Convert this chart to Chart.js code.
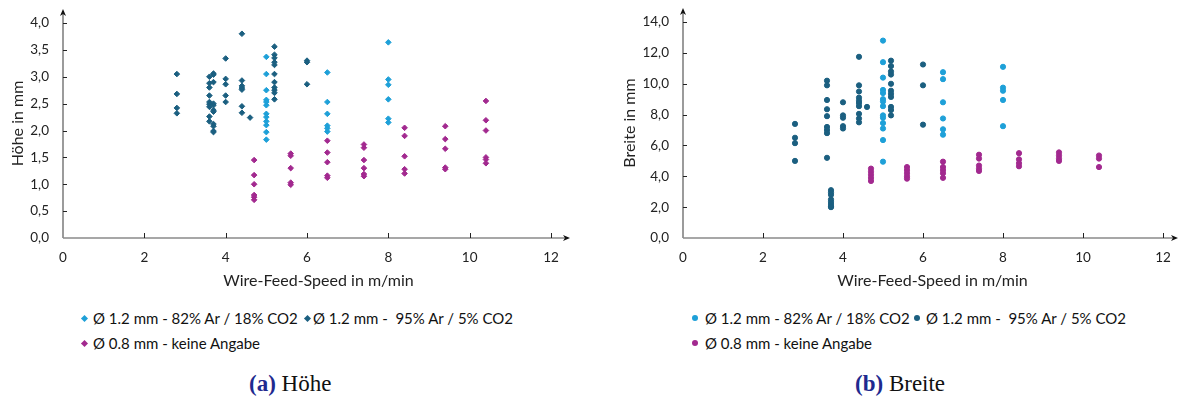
<!DOCTYPE html>
<html><head><meta charset="utf-8">
<script src="https://cdn.jsdelivr.net/npm/chart.js@4/dist/chart.umd.min.js"></script>
<style>
body{margin:0;background:#fff;width:1185px;height:400px;position:relative;overflow:hidden;font-family:Lato,sans-serif;}
canvas{position:absolute;top:0;}
.leg{position:absolute;font-size:15px;color:#111;white-space:pre;line-height:18px;}
.mk{position:absolute;}
.cap{position:absolute;top:370px;font-family:"Liberation Serif",serif;font-size:23px;line-height:28px;color:#111;white-space:pre;}
.cap b{color:#1f2a8f;}
</style></head>
<body>
<canvas id="cH" width="592" height="295" style="left:0"></canvas>
<canvas id="cB" width="593" height="295" style="left:592px"></canvas>
<div id="legends"></div>
<div class="cap" style="left:249px"><b>(a)</b> Höhe</div>
<div class="cap" style="left:855px"><b>(b)</b> Breite</div>
<script>
// ---- data ----
const seriesNames = ['Ø 1.2 mm - 82% Ar / 18% CO2', 'Ø 1.2 mm -  95% Ar / 5% CO2', 'Ø 0.8 mm - keine Angabe'];
const seriesColors = ['#1ea0d8', '#1b5f80', '#a2298f'];
const xTitle = 'Wire-Feed-Speed in m/min';
const xTicks = [0, 2, 4, 6, 8, 10, 12];
const hoeheTicks = [0, 0.5, 1, 1.5, 2, 2.5, 3, 3.5, 4];
const breiteTicks = [0, 2, 4, 6, 8, 10, 12, 14];

const speedsLight = [5.0, 6.5, 8.0];
const speedsDark = [2.8, 3.6, 3.7, 4.0, 4.4, 4.6, 5.2, 6.0];
const speedsThin = [4.7, 5.6, 6.5, 7.4, 8.4, 9.4, 10.4];

const hoeheLight = [
  [3.37, 3.05, 2.75, 2.57, 2.53, 2.47, 2.31, 2.25, 2.17, 2.10, 1.97, 1.83],
  [3.08, 2.53, 2.31, 2.09, 2.04, 1.98],
  [3.64, 2.95, 2.85, 2.58, 2.22, 2.15]
];
const hoeheDark = [
  [3.05, 2.68, 2.42, 2.32],
  [3.00, 2.88, 2.80, 2.65, 2.53, 2.49, 2.44, 2.26, 2.17],
  [3.06, 3.04, 2.90, 2.50, 2.47, 2.38, 2.35, 2.12, 2.08, 1.99, 1.97],
  [3.34, 2.96, 2.86, 2.65, 2.53],
  [3.80, 2.93, 2.83, 2.79, 2.76, 2.45, 2.33],
  [2.24],
  [3.56, 3.41, 3.35, 3.27, 3.22, 3.05, 2.90, 2.80, 2.75, 2.70, 2.58],
  [3.30, 3.27, 2.86]
];
const hoeheThin = [
  [1.45, 1.17, 1.00, 0.80, 0.76, 0.71],
  [1.57, 1.53, 1.30, 1.03, 0.99],
  [1.81, 1.59, 1.41, 1.16, 1.12],
  [1.74, 1.68, 1.45, 1.30, 1.19, 1.15],
  [2.05, 1.90, 1.52, 1.28, 1.20],
  [2.08, 1.84, 1.66, 1.31, 1.28],
  [2.55, 2.19, 2.00, 1.50, 1.46, 1.39]
];

const breiteLight = [
  [12.8, 11.4, 10.4, 9.6, 9.4, 9.0, 8.85, 8.55, 7.95, 7.8, 7.45, 7.1, 6.35, 4.95],
  [10.75, 10.3, 8.8, 7.75, 7.05, 6.7],
  [11.1, 9.75, 9.55, 8.95, 7.25]
];
const breiteDark = [
  [7.4, 6.5, 6.15, 5.0],
  [10.2, 9.9, 8.95, 8.35, 7.9, 7.2, 7.0, 6.8, 5.2],
  [3.1, 2.95, 2.8, 2.5, 2.35, 2.2, 2.05, 2.0],
  [8.8, 7.95, 7.8, 7.25, 7.1],
  [11.75, 9.9, 9.5, 9.1, 8.9, 8.75, 8.55, 8.05, 7.75, 7.5],
  [8.5],
  [11.5, 11.15, 10.8, 10.6, 10.0, 9.55, 9.35, 9.15, 8.5, 8.3, 7.95],
  [11.25, 9.9, 7.35]
];
const breiteThin = [
  [4.5, 4.3, 4.1, 3.9, 3.7],
  [4.6, 4.4, 4.2, 4.0, 3.85],
  [4.95, 4.6, 4.4, 4.2, 3.9],
  [5.4, 5.15, 4.7, 4.5, 4.35],
  [5.5, 5.1, 4.85, 4.65],
  [5.55, 5.35, 5.15, 5.0],
  [5.35, 5.15, 4.6]
];

// ---- helpers ----
function toPoints(speeds, groups) {
  return speeds.flatMap((s, i) => groups[i].map(v => ({x: s, y: v})));
}

const axisArrows = {
  id: 'axisArrows',
  beforeDatasetsDraw(chart, args, opts) {
    const {ctx, chartArea: a, scales: {x, y}} = chart;
    ctx.save();
    ctx.strokeStyle = '#8a8a8a';
    ctx.lineWidth = 1.7;
    const xt = a.right + opts.xExt, yt = a.top - opts.yExt;
    ctx.beginPath();
    ctx.moveTo(a.left, a.bottom); ctx.lineTo(xt - 4, a.bottom);
    ctx.moveTo(a.left, a.bottom); ctx.lineTo(a.left, yt + 4);
    ctx.stroke();
    ctx.fillStyle = '#111';
    ctx.beginPath();
    ctx.moveTo(xt, a.bottom); ctx.lineTo(xt - 7, a.bottom - 3); ctx.lineTo(xt - 5, a.bottom); ctx.lineTo(xt - 7, a.bottom + 3);
    ctx.closePath(); ctx.fill();
    ctx.beginPath();
    ctx.moveTo(a.left, yt); ctx.lineTo(a.left - 3, yt + 7); ctx.lineTo(a.left, yt + 5); ctx.lineTo(a.left + 3, yt + 7);
    ctx.closePath(); ctx.fill();
    ctx.strokeStyle = '#222';
    ctx.lineWidth = 1;
    ctx.beginPath();
    x.ticks.forEach(t => {
      const px = Math.round(x.getPixelForValue(t.value)) + 0.5;
      if (t.value === 0) return;
      ctx.moveTo(px, a.bottom); ctx.lineTo(px, a.bottom - 5);
    });
    y.ticks.forEach(t => {
      const py = Math.round(y.getPixelForValue(t.value)) + 0.5;
      if (t.value === 0) return;
      ctx.moveTo(a.left, py); ctx.lineTo(a.left + 4, py);
    });
    ctx.stroke();
    // axis titles, centred on the full axis including its arrow
    ctx.fillStyle = '#222';
    ctx.font = '16px Lato';
    ctx.textAlign = 'center';
    ctx.textBaseline = 'middle';
    ctx.fillText(opts.xTitle, (a.left + xt) / 2 + 2, 281);
    ctx.translate(opts.yTitleX, (a.bottom + yt) / 2);
    ctx.rotate(-Math.PI / 2);
    ctx.fillText(opts.yTitle, 0, 0);
    ctx.restore();
  }
};

function makeChart(id, groupsL, groupsD, groupsT, cfg) {
  const sets = [
    toPoints(speedsLight, groupsL),
    toPoints(speedsDark, groupsD),
    toPoints(speedsThin, groupsT)
  ];
  const datasets = sets.map((d, i) => ({
    label: seriesNames[i],
    data: d,
    pointStyle: cfg.style,
    pointRadius: cfg.radius,
    pointBorderWidth: 1,
    backgroundColor: seriesColors[i],
    borderColor: seriesColors[i]
  }));
  return new Chart(document.getElementById(id), {
    type: 'scatter',
    data: {datasets},
    plugins: [axisArrows],
    options: {
      responsive: false, animation: false, devicePixelRatio: 1,
      layout: {padding: {top: cfg.top, right: cfg.right, left: 0, bottom: 0}},
      plugins: {
        legend: {display: false}, tooltip: {enabled: false},
        axisArrows: {xExt: cfg.xExt, yExt: 14, xTitle: xTitle, yTitle: cfg.ytitle, yTitleX: cfg.ytX}
      },
      scales: {
        x: {
          type: 'linear', min: 0, max: 12,
          afterBuildTicks: s => { s.ticks = xTicks.map(v => ({value: v})); },
          afterFit: s => { s.height = 57; },
          grid: {display: false, drawTicks: false}, border: {display: false},
          ticks: {padding: 12, color: '#222', font: {family: 'Lato', size: 13.5}, callback: v => String(v)}
        },
        y: {
          type: 'linear', min: 0, max: cfg.ymax,
          afterBuildTicks: s => { s.ticks = cfg.yTicks.map(v => ({value: v})); },
          afterFit: s => { s.width = cfg.yw; },
          grid: {display: false, drawTicks: false}, border: {display: false},
          ticks: {padding: 14, color: '#222', font: {family: 'Lato', size: 13.5}, callback: v => v.toFixed(1).replace('.', ',')}
        }
      }
    }
  });
}

makeChart('cH', hoeheLight, hoeheDark, hoeheThin,
  {style: 'rectRot', radius: 2.8, top: 23, right: 41, xExt: 19, ymax: 4, yTicks: hoeheTicks, yw: 63, ytitle: 'Höhe in mm', ytX: 18});
makeChart('cB', breiteLight, breiteDark, breiteThin,
  {style: 'circle', radius: 2.6, top: 22, right: 22, xExt: 15, ymax: 14, yTicks: breiteTicks, yw: 91, ytitle: 'Breite in mm', ytX: 38});

// ---- legends (HTML) ----
const legendLayout = [
  {shape: 'diamond', items: [[84, 93, 318], [307, 313, 318], [84, 93, 343]]},
  {shape: 'circle', items: [[695, 705, 318], [917, 926, 318], [695, 705, 343]]}
];
const legEl = document.getElementById('legends');
legendLayout.forEach(L => {
  L.items.forEach((it, i) => {
    const mk = document.createElement('div');
    mk.className = 'mk';
    if (L.shape === 'diamond') {
      mk.style.cssText = `left:${it[0]-2.5}px;top:${it[2]-2.5}px;width:5px;height:5px;background:${seriesColors[i]};transform:rotate(45deg);`;
    } else {
      mk.style.cssText = `left:${it[0]-3}px;top:${it[2]-3}px;width:6px;height:6px;border-radius:50%;background:${seriesColors[i]};`;
    }
    legEl.appendChild(mk);
    const tx = document.createElement('div');
    tx.className = 'leg';
    tx.style.left = it[1] + 'px';
    tx.style.top = (it[2] - 9) + 'px';
    tx.textContent = seriesNames[i];
    legEl.appendChild(tx);
  });
});
</script>
</body></html>
